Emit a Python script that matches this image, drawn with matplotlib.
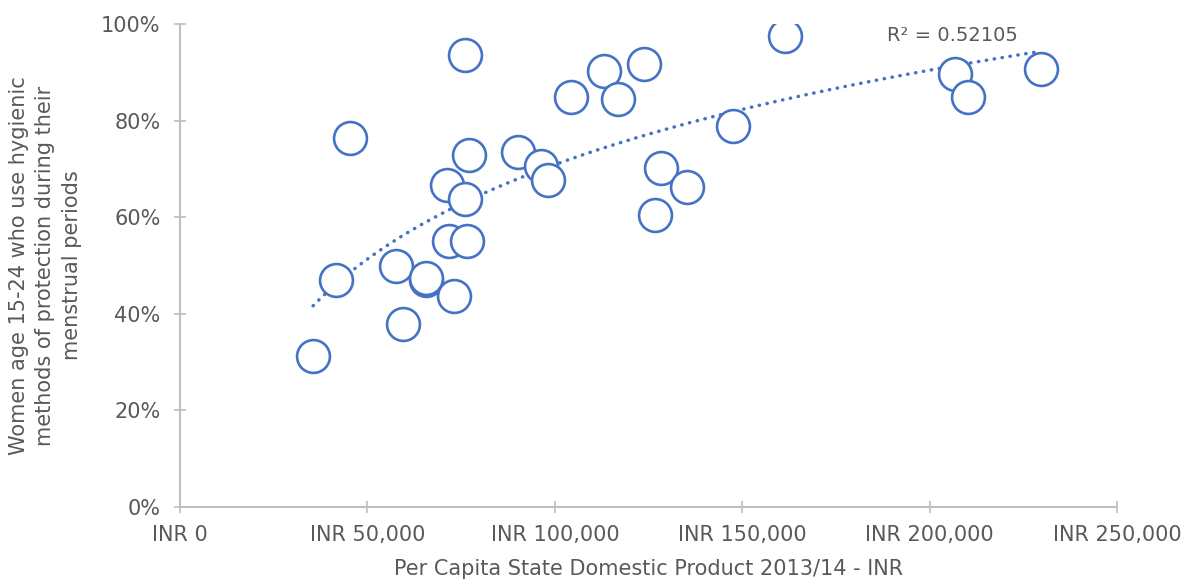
import matplotlib.pyplot as plt
import numpy as np
from matplotlib.ticker import FuncFormatter

# 州ごとの一人当たり州内総生産(INR)と衛生的な生理用品の使用率(%)
gdp_per_capita = [35500, 41600, 45400, 57600, 59500, 65600, 65700, 71200, 71800, 73100,
                  76000, 76000, 76600, 77100, 90200, 96300, 98200, 104300, 113100, 116900,
                  123800, 126700, 128300, 135300, 147500, 161400, 206800, 210200, 229700]
hygienic_pct = [31.3, 47.0, 76.4, 49.9, 37.9, 47.0, 47.5, 66.7, 55.1, 43.7,
                93.6, 63.8, 55.1, 72.9, 73.5, 70.6, 67.7, 84.9, 90.3, 84.5,
                91.7, 60.5, 70.2, 66.3, 78.9, 97.5, 89.6, 84.9, 90.7]
r2_label = 'R² = 0.52105'

BLUE = '#4472C4'
GRAY = '#595959'
AXIS = '#BFBFBF'

plt.rcParams['font.family'] = ['DejaVu Sans']

fig = plt.figure(figsize=(11.9, 5.84), dpi=100)
ax = fig.add_axes([0.1513, 0.1318, 0.7874, 0.8271])

x = np.array(gdp_per_capita)
y = np.array(hygienic_pct)

# 対数近似の傾向線
a, b = np.polyfit(np.log(x), y, 1)
xs = np.linspace(x.min(), x.max() - 1500, 200)
ax.plot(xs, a * np.log(xs) + b, color=BLUE, lw=2.5, linestyle=(0, (0.1, 2.2)),
        dash_capstyle='round', zorder=2)

ax.scatter(x, y, s=560, facecolors='white', edgecolors=BLUE, linewidths=1.9, zorder=3)

ax.text(188500, 97.7, r2_label, fontsize=14, color=GRAY, ha='left', va='center')

ax.set_xlim(0, 250000)
ax.set_ylim(0, 100)
ax.set_xticks(np.arange(0, 250001, 50000))
ax.set_yticks(np.arange(0, 101, 20))
ax.xaxis.set_major_formatter(FuncFormatter(lambda v, p: f'INR {int(v):,}'))
ax.yaxis.set_major_formatter(FuncFormatter(lambda v, p: f'{int(v)}%'))

for side in ['top', 'right']:
    ax.spines[side].set_visible(False)
for side in ['left', 'bottom']:
    ax.spines[side].set_color(AXIS)
    ax.spines[side].set_linewidth(1.5)
ax.tick_params(direction='inout', length=8, width=1.2, color=AXIS,
               labelcolor=GRAY, labelsize=15)
ax.tick_params(axis='x', pad=9)
ax.tick_params(axis='y', pad=10)

ax.set_xlabel('Per Capita State Domestic Product 2013/14 - INR', fontsize=15,
              color=GRAY, labelpad=10)
ax.set_ylabel('Women age 15-24 who use hygienic\nmethods of protection during their\nmenstrual periods',
              fontsize=15, color=GRAY, labelpad=14, linespacing=1.4)

fig.savefig('out.png', dpi=100)
